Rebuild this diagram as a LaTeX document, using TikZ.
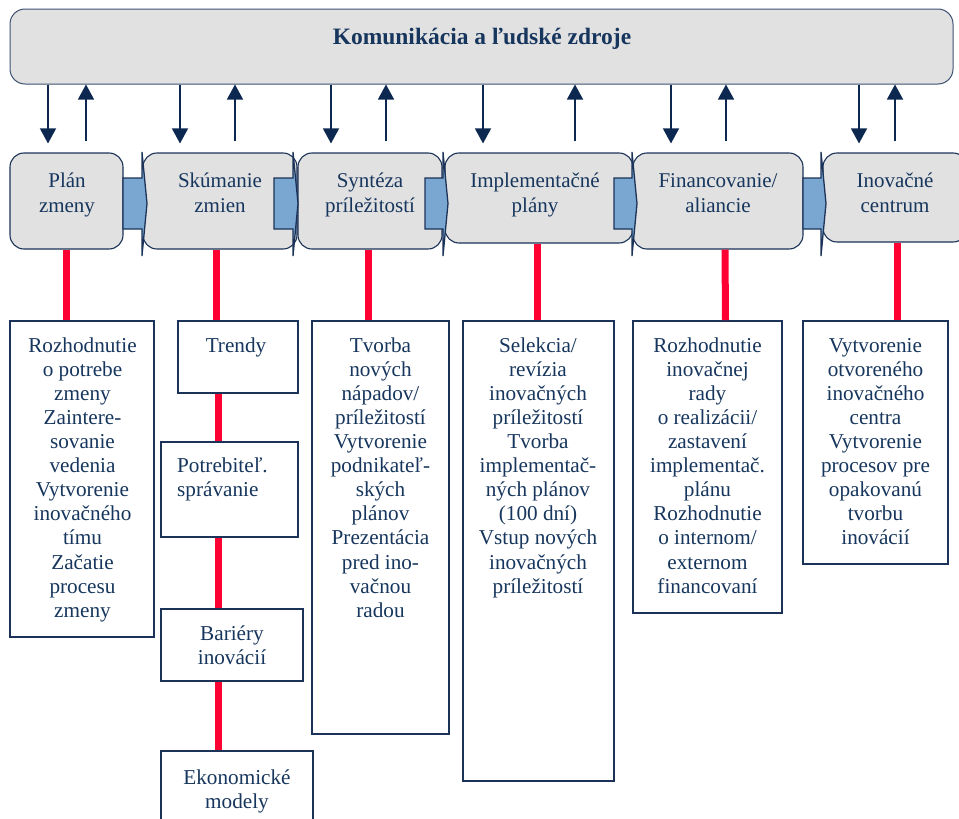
\documentclass[tikz,border=0pt]{standalone}
\usepackage{fontspec}
\setmainfont{Liberation Serif}
\usetikzlibrary{arrows.meta}
\definecolor{boxgray}{HTML}{E1E1E1}
\definecolor{navy}{HTML}{1B3358}
\definecolor{txt}{HTML}{17365D}
\definecolor{arrblue}{HTML}{7AA7D2}
\definecolor{redc}{HTML}{FF0033}
\definecolor{arrnavy}{HTML}{0D2850}
\newcommand\blockarr[2]{%
  \draw[navy, line width=1.3pt, fill=arrblue, line join=miter]
    (#1,-178) -- (#2,-178) -- (#2,-152) -- ({#2+5},-203.5) -- (#2,-256) -- (#2,-229) -- (#1,-229) -- cycle;}
\begin{document}
\begin{tikzpicture}[x=1pt,y=1pt,
  topbar/.style={draw=navy!85, line width=1pt, fill=boxgray, rounded corners=15pt, inner sep=0pt},
  procbox/.style={draw=navy, line width=1.1pt, fill=boxgray, rounded corners=14pt, inner sep=0pt},
  proctext/.style={text=txt, font=\fontsize{21}{25}\selectfont, align=center, inner sep=0pt, anchor=north},
  infobox/.style={draw=navy, line width=1.8pt, fill=white, inner sep=0pt},
  infotext/.style={text=txt, font=\fontsize{21.2}{24.1}\selectfont, align=center, inner sep=0pt, anchor=north},
  navyarr/.style={draw=arrnavy, line width=1.4pt, -{Triangle[width=16pt,length=15pt]}},
  redline/.style={draw=redc, line width=7pt}
]
\useasboundingbox (0,0) rectangle (959,-819);
\clip (0,0) rectangle (959,-819);

% top bar
\node[topbar, minimum width=943pt, minimum height=75pt] (top) at (481.5,-46.5) {};
\node[anchor=base, inner sep=0pt, text=txt, font=\bfseries\fontsize{23.5}{28}\selectfont] (title) at (482,-45) {Komunikácia a ľudské zdroje};

% process boxes
\node[procbox, minimum width=113pt, minimum height=96pt] (p1) at (66.5,-201) {};
\node[procbox, minimum width=154pt, minimum height=96pt] (p2) at (220,-201) {};
\node[procbox, minimum width=144pt, minimum height=96pt] (p3) at (370,-201) {};
\node[procbox, minimum width=188pt, minimum height=90pt] (p4) at (539,-198) {};
\node[procbox, minimum width=170pt, minimum height=96pt] (p5) at (718,-201) {};
\node[procbox, minimum width=144pt, minimum height=89pt] (p6) at (895,-197.5) {};

\node[proctext] (t1) at (67,-169.5) {\strut Plán\\zmeny};
\node[proctext] (t2) at (220,-169.5) {\strut Skúmanie\\zmien};
\node[proctext] (t3) at (370,-169.5) {\strut Syntéza\\príležitostí};
\node[proctext] (t4) at (535,-169.5) {\strut Implementačné\\plány};
\node[proctext] (t5) at (718,-169.5) {\strut Financovanie/\\aliancie};
\node[proctext] (t6) at (895,-169.5) {\strut Inovačné\\centrum};

% block arrows
\blockarr{123}{142}
\blockarr{274}{293}
\blockarr{425}{443}
\blockarr{614}{632}
\blockarr{803}{821}

% communication arrows
\draw[navyarr, shorten >=9pt] (48,0 |- top.south) -- (48,0 |- p1.north);
\draw[navyarr, shorten <=11pt] (86,0 |- p1.north) -- (86,0 |- top.south);
\draw[navyarr, shorten >=9pt] (180,0 |- top.south) -- (180,0 |- p2.north);
\draw[navyarr, shorten <=11pt] (235,0 |- p2.north) -- (235,0 |- top.south);
\draw[navyarr, shorten >=9pt] (331,0 |- top.south) -- (331,0 |- p3.north);
\draw[navyarr, shorten <=11pt] (386,0 |- p3.north) -- (386,0 |- top.south);
\draw[navyarr, shorten >=9pt] (483,0 |- top.south) -- (483,0 |- p4.north);
\draw[navyarr, shorten <=11pt] (575,0 |- p4.north) -- (575,0 |- top.south);
\draw[navyarr, shorten >=9pt] (671,0 |- top.south) -- (671,0 |- p5.north);
\draw[navyarr, shorten <=11pt] (726,0 |- p5.north) -- (726,0 |- top.south);
\draw[navyarr, shorten >=9pt] (859,0 |- top.south) -- (859,0 |- p6.north);
\draw[navyarr, shorten <=11pt] (895,0 |- p6.north) -- (895,0 |- top.south);

% info boxes
\node[infobox, minimum width=144pt, minimum height=316pt] (b1) at (82,-479) {};
\node[infobox, minimum width=120pt, minimum height=72pt] (b2a) at (238,-357) {};
\node[infobox, minimum width=137pt, minimum height=95pt] (b2b) at (229.5,-489.5) {};
\node[infobox, minimum width=142pt, minimum height=72pt] (b2c) at (232,-645) {};
\node[infobox, minimum width=152pt, minimum height=79pt] (b2d) at (237,-790.5) {};
\node[infobox, minimum width=137pt, minimum height=413pt] (b3) at (380.5,-527.5) {};
\node[infobox, minimum width=151pt, minimum height=460pt] (b4) at (538.5,-551) {};
\node[infobox, minimum width=149pt, minimum height=292pt] (b5) at (707.5,-467) {};
\node[infobox, minimum width=145pt, minimum height=243pt] (b6) at (875.5,-442.5) {};

% red connectors
\draw[redline] (p1.south) -- (p1.south |- b1.north);
\draw[redline] (216,0 |- p2.south) -- (216,0 |- b2a.north);
\draw[redline] (218,0 |- b2a.south) -- (218,0 |- b2b.north);
\draw[redline] (218,0 |- b2b.south) -- (218,0 |- b2c.north);
\draw[redline] (218.5,0 |- b2c.south) -- (218.5,0 |- b2d.north);
\draw[redline] (368,0 |- p3.south) -- (368,0 |- b3.north);
\draw[redline] (537,0 |- p4.south) -- (537,0 |- b4.north);
\draw[redline] (725,0 |- p5.south) -- (725.5,0 |- b5.north);
\draw[redline] (897,0 |- p6.south) -- (897,0 |- b6.north);

% info texts
\node[infotext] (x1) at (82.5,-335.1) {\strut Rozhodnutie\\o potrebe\\zmeny\\Zaintere-\\sovanie\\vedenia\\Vytvorenie\\inovačného\\tímu\\Začatie\\procesu\\zmeny};
\node[infotext] (x2a) at (236,-335.1) {\strut Trendy};
\node[infotext, align=left, anchor=north west] (x2b) at (177,-455.1) {\strut Potrebiteľ.\\správanie};
\node[infotext] (x2c) at (232,-623.1) {\strut Bariéry\\inovácií};
\node[infotext] (x2d) at (237,-767.1) {\strut Ekonomické\\modely};
\node[infotext] (x3) at (380.5,-335.1) {\strut Tvorba\\nových\\nápadov/\\príležitostí\\Vytvorenie\\podnikateľ-\\ských\\plánov\\Prezentácia\\pred ino-\\vačnou\\radou};
\node[infotext] (x4) at (538,-335.1) {\strut Selekcia/\\revízia\\inovačných\\príležitostí\\Tvorba\\implementač-\\ných plánov\\(100 dní)\\Vstup nových\\inovačných\\príležitostí};
\node[infotext] (x5) at (707.5,-335.1) {\strut Rozhodnutie\\inovačnej\\rady\\o realizácii/\\zastavení\\implementač.\\plánu\\Rozhodnutie\\o internom/\\externom\\financovaní};
\node[infotext] (x6) at (875.5,-335.1) {\strut Vytvorenie\\otvoreného\\inovačného\\centra\\Vytvorenie\\procesov pre\\opakovanú\\tvorbu\\inovácií};
\end{tikzpicture}
\end{document}
